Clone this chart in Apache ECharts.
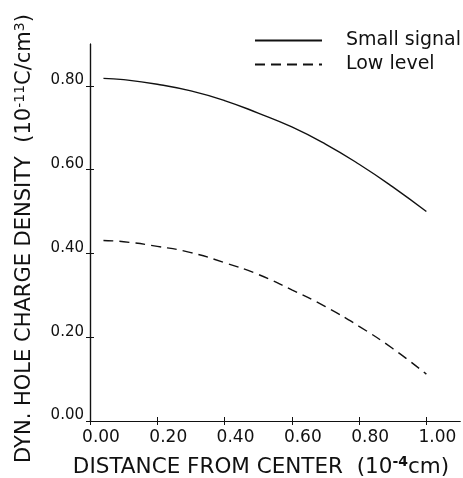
<!DOCTYPE html>
<html>
<head>
<meta charset="utf-8">
<script src="https://cdn.jsdelivr.net/npm/echarts@6/dist/echarts.min.js"></script>
<style>
  html, body { margin: 0; padding: 0; background: #fff; }
  #chart { width: 463px; height: 478px; }
</style>
</head>
<body>
<div id="chart"></div>
<script>
// Distance from center (10^-4 cm)
const distance = [0.04, 0.1, 0.2, 0.3, 0.4, 0.5, 0.6, 0.7, 0.8, 0.9, 1.0];
// Dynamic hole charge density (10^-11 C/cm^3)
const smallSignal = [0.818, 0.815, 0.804, 0.788, 0.765, 0.735, 0.702, 0.661, 0.613, 0.559, 0.500];
const lowLevel = [0.431, 0.428, 0.417, 0.402, 0.378, 0.350, 0.313, 0.273, 0.226, 0.173, 0.112];
const xTicks = [0, 0.2, 0.4, 0.6, 0.8, 1.0];
const yTicks = [0, 0.2, 0.4, 0.6, 0.8];

const FONT = 'DejaVu Sans';
const INK = '#111';

const pairs = (xs, ys) => xs.map((x, i) => [x, ys[i]]);

const baseX = {
  type: 'value', min: 0, max: 1.1, interval: 0.2,
  axisLine: { show: true, onZero: false, lineStyle: { color: INK, width: 1.2 } },
  splitLine: { show: false }
};
const baseY = {
  type: 'value', min: 0, max: 0.9, interval: 0.2,
  axisLine: { show: true, onZero: false, lineStyle: { color: INK, width: 1.2 } },
  splitLine: { show: false }
};

const chart = echarts.init(document.getElementById('chart'));
chart.setOption({
  backgroundColor: '#fff',
  animation: false,
  grid: { left: 90, right: 3, top: 44, bottom: 57, containLabel: false, outerBoundsMode: 'none' },
  legend: {
    orient: 'vertical', right: -3, top: 26,
    itemWidth: 67, itemHeight: 14, itemGap: 5,
    itemStyle: { opacity: 0, borderWidth: 0 },
    textStyle: { fontFamily: FONT, fontSize: 19, color: INK, padding: [0, 0, 0, 19] },
    data: ['Small signal', 'Low level']
  },
  xAxis: [
    Object.assign({}, baseX, {
      axisTick: { show: true, inside: false, length: 4, customValues: xTicks, lineStyle: { color: INK } },
      axisLabel: {
        fontFamily: FONT, fontSize: 17, color: INK, margin: 8,
        padding: [0, 0, 0, 22],
        customValues: xTicks,
        formatter: v => v.toFixed(2)
      },
      name: '{t|DISTANCE FROM CENTER  (10}{sup|-4}{t|cm)}',
      nameLocation: 'middle', nameGap: 34,
      nameTextStyle: {
        padding: [0, 28, 0, 0],
        rich: {
          t: { fontFamily: FONT, fontSize: 21.5, color: INK },
          sup: { fontFamily: FONT, fontSize: 14, fontWeight: 'bold', color: INK, padding: [0, 0, 10, 0] }
        }
      }
    }),
    Object.assign({}, baseX, {
      position: 'bottom',
      axisTick: { show: true, inside: true, length: 4, customValues: xTicks, lineStyle: { color: INK } },
      axisLabel: { show: false }
    })
  ],
  yAxis: [
    Object.assign({}, baseY, {
      axisTick: { show: true, inside: false, length: 4, customValues: yTicks, lineStyle: { color: INK } },
      axisLabel: {
        fontFamily: FONT, fontSize: 15, color: INK, margin: 6,
        verticalAlign: 'bottom', padding: [0, 0, -2, 0],
        customValues: yTicks,
        formatter: v => v.toFixed(2)
      },
      name: '{t|DYN. HOLE CHARGE DENSITY  (10}{sup|-11}{t|C/cm}{sup|3}{t|)}',
      nameLocation: 'middle', nameRotate: 90, nameGap: 53,
      nameTextStyle: {
        padding: [0, 12, 0, 0],
        rich: {
          t: { fontFamily: FONT, fontSize: 21, color: INK },
          sup: { fontFamily: FONT, fontSize: 14, color: INK, padding: [0, 0, 10, 0] }
        }
      }
    }),
    Object.assign({}, baseY, {
      position: 'left',
      axisTick: { show: true, inside: true, length: 4, customValues: yTicks, lineStyle: { color: INK } },
      axisLabel: { show: false }
    })
  ],
  series: [
    {
      name: 'Small signal', type: 'line', smooth: true, symbol: 'none',
      xAxisIndex: 0, yAxisIndex: 0,
      lineStyle: { color: INK, width: 1.4, type: 'solid' },
      itemStyle: { color: INK },
      data: pairs(distance, smallSignal)
    },
    {
      name: 'Low level', type: 'line', smooth: true, symbol: 'none',
      xAxisIndex: 0, yAxisIndex: 0,
      lineStyle: { color: INK, width: 1.4, type: [10, 6] },
      itemStyle: { color: INK },
      data: pairs(distance, lowLevel)
    }
  ]
});
</script>
</body>
</html>
